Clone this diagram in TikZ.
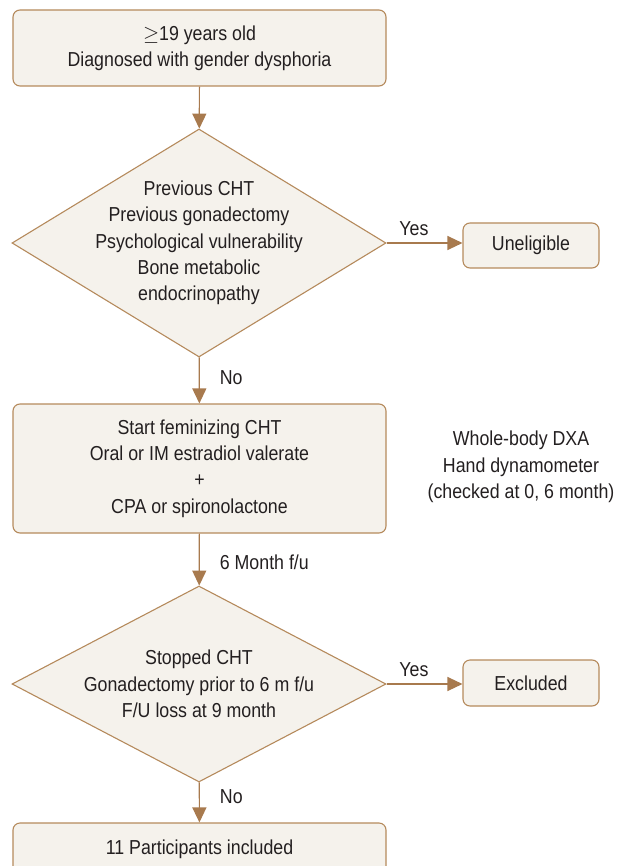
\documentclass[tikz,border=0pt]{standalone}
\usepackage{fontspec}
\setmainfont{Liberation Sans}[FakeStretch=0.88]
\usetikzlibrary{shapes.geometric,arrows.meta}
\definecolor{boxfill}{HTML}{F5F2EC}
\definecolor{boxline}{HTML}{B58A5C}
\definecolor{arrowcol}{HTML}{A87A4E}
\definecolor{txt}{HTML}{231F20}
\tikzset{
    flowbox/.style={draw=boxline, fill=boxfill, line width=1.1pt, rounded corners=7pt,
        align=center, text=txt, inner sep=0pt},
    decision/.style={diamond, draw=boxline, fill=boxfill, line width=1.1pt, inner sep=0pt},
    plaintext/.style={text=txt, align=center, inner sep=0pt},
    flowarrow/.style={draw=arrowcol, line width=1.2pt, -{Triangle[length=15pt,width=14pt]}},
    edgelabel/.style={text=txt, inner sep=0pt}
}
\begin{document}
\begin{tikzpicture}[x=1pt, y=-1pt, font=\fontsize{20.2}{26.3}\selectfont]
    \useasboundingbox (0,0) rectangle (625,866);
    % Entry box at the top
    \node[flowbox, minimum width=373pt, minimum height=76pt] (entry) at (199.5,48)
        {$\geq$19 years old\\Diagnosed with gender dysphoria};
    % First decision: exclusion criteria
    \node[decision, minimum width=374pt, minimum height=228pt] (crit) at (199,243) {};
    \node[plaintext] (critText) at (crit.center)
        {Previous CHT\\Previous gonadectomy\\Psychological vulnerability\\Bone metabolic\\endocrinopathy};
    \node[flowbox, minimum width=136pt, minimum height=45pt] (inel) at (531,245.5) {Uneligible};
    % Treatment box
    \node[flowbox, minimum width=373pt, minimum height=129pt] (cht) at (199.5,468.5)
        {Start feminizing CHT\\Oral or IM estradiol valerate\\+\\CPA or spironolactone};
    % Measurements written beside the treatment box
    \node[plaintext] (meas) at (521,467)
        {Whole-body DXA\\Hand dynamometer\\(checked at 0, 6 month)};
    % Second decision: drop-outs
    \node[decision, minimum width=374pt, minimum height=196pt] (stop) at (199,684) {};
    \node[plaintext] (stopText) at (stop.center)
        {Stopped CHT\\Gonadectomy prior to 6 m f/u\\F/U loss at 9 month};
    \node[flowbox, minimum width=136pt, minimum height=46pt] (excl) at (531,683) {Excluded};
    % Final box, cut by the lower edge
    \node[flowbox, minimum width=373pt, minimum height=52pt] (incl) at (199.5,849)
        {11 Participants included};
    % Connectors
    \draw[flowarrow] (entry) -- (crit);
    \draw[flowarrow] (crit.east) -- node[edgelabel, above=7pt, pos=0.36] {Yes} (inel.west |- crit.east);
    \draw[flowarrow] (crit) -- node[edgelabel, right=20pt, pos=0.45] {No} (cht);
    \draw[flowarrow] (cht) -- node[edgelabel, right=20pt, pos=0.56] {6 Month f/u} (stop);
    \draw[flowarrow] (stop.east) -- node[edgelabel, above=7pt, pos=0.36] {Yes} (excl.west |- stop.east);
    \draw[flowarrow] (stop) -- node[edgelabel, right=20pt, pos=0.35] {No} (incl);
\end{tikzpicture}
\end{document}
